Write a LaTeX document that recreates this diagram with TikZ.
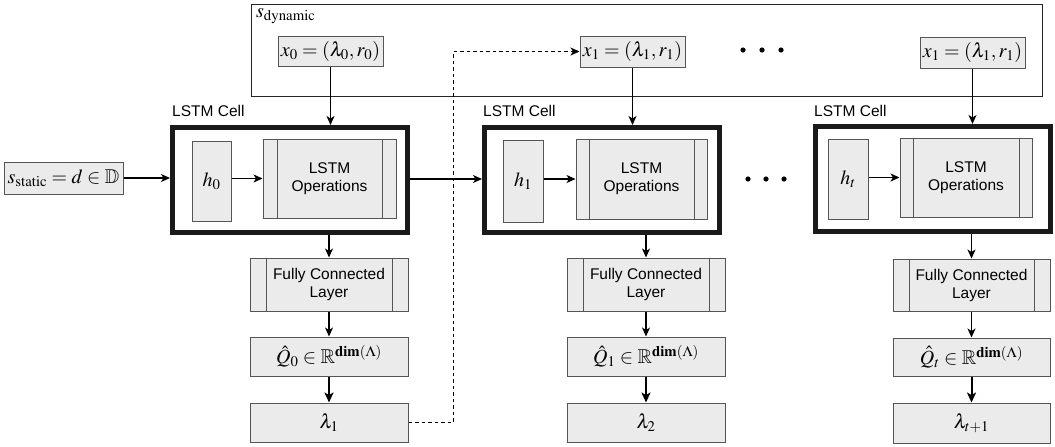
\documentclass[tikz,border=0pt]{standalone}
\usepackage{amsmath}
\usepackage{mathptmx}
\usepackage{amssymb}
\usepackage[no-math]{fontspec}
\setmainfont{Liberation Serif}
\setsansfont{Liberation Sans}
\usetikzlibrary{arrows.meta,calc}
\definecolor{boxc}{HTML}{EBEBEB}
\definecolor{bordc}{HTML}{555555}
\definecolor{cellc}{HTML}{1A1A1A}
\tikzset{
  box/.style={draw=bordc, fill=boxc, line width=1pt, inner sep=0pt},
  cellbox/.style={draw=cellc, line width=5pt, fill=white, inner sep=0pt, minimum width=235pt, minimum height=105pt},
  procbox/.style={box, path picture={
      \draw[bordc, line width=1pt] ([xshift=#1]path picture bounding box.north west) -- ([xshift=#1]path picture bounding box.south west);
      \draw[bordc, line width=1pt] ([xshift=-#1]path picture bounding box.north east) -- ([xshift=-#1]path picture bounding box.south east);}},
  mfont/.style={font=\fontsize{20}{24}\selectfont},
  sfont/.style={font=\sffamily\fontsize{15.5}{18}\selectfont, align=center},
  arr/.style={draw=black, line width=1.2pt, -{Stealth[length=9pt,width=8pt,inset=2.5pt]}},
  thickarr/.style={draw=black, line width=2pt, -{Stealth[length=10pt,width=9pt,inset=2.5pt]}},
  dsharr/.style={draw=black, line width=1pt, dash pattern=on 3.5pt off 3pt, -{Stealth[length=9pt,width=8pt,inset=2.5pt]}}
}
\begin{document}
\begin{tikzpicture}[x=1pt,y=-1pt]
\useasboundingbox[fill=white] (0,0) rectangle (1055,447);

% dynamic state box
\node[draw=black!85, line width=1pt, fill=white, minimum width=791pt, minimum height=92pt, inner sep=0pt] (sdyn) at (646.5,50) {};
\node[mfont, anchor=north west, inner sep=0pt] (sdynlbl) at (256,8) {$s_{\mathrm{dynamic}}$};

\node[box, mfont, minimum width=105pt, minimum height=30pt] (x0) at (330.5,51) {$x_0=(\lambda_0,r_0)$};
\node[box, mfont, minimum width=105pt, minimum height=31pt] (x1a) at (632.5,51.5) {$x_1=(\lambda_1,r_1)$};
\node[box, mfont, minimum width=105pt, minimum height=31pt] (x1b) at (972.5,52.5) {$x_1=(\lambda_1,r_1)$};

\foreach \xx in {743,762,781}{\fill (\xx,50) circle (2.6pt);}

% static state
\node[box, mfont, minimum width=119pt, minimum height=32pt] (sstat) at (63.5,178) {$s_{\mathrm{static}}=d\in\mathbb{D}$};

% LSTM cells
\node[cellbox] (cell1) at (290,180) {};
\node[cellbox] (cell2) at (602,180) {};
\node[cellbox] (cell3) at (932.5,179) {};
\node[sfont, anchor=south west, inner sep=0pt] (lbl1) at (172,117) {LSTM Cell};
\node[sfont, anchor=south west, inner sep=0pt] (lbl2) at (483,117) {LSTM Cell};
\node[sfont, anchor=south west, inner sep=0pt] (lbl3) at (814,117) {LSTM Cell};

\node[box, mfont, minimum width=39pt, minimum height=80pt] (h0) at (211.5,181) {$h_0$};
\node[box, mfont, minimum width=40pt, minimum height=82pt] (h1) at (523,181) {$h_1$};
\node[box, mfont, minimum width=40pt, minimum height=80pt] (ht) at (848,179) {$h_t$};

\node[procbox=14pt, sfont, minimum width=133pt, minimum height=79pt] (ops1) at (329.5,178.5) {LSTM\\Operations};
\node[procbox=13pt, sfont, minimum width=131pt, minimum height=80pt] (ops2) at (641.5,179) {LSTM\\Operations};
\node[procbox=13pt, sfont, minimum width=132pt, minimum height=79pt] (ops3) at (966,177.5) {LSTM\\Operations};

\foreach \xx in {748,766,784}{\fill (\xx,179) circle (2.6pt);}

% output columns
\node[procbox=16pt, sfont, minimum width=158pt, minimum height=53pt] (fc1) at (329,284.5) {Fully Connected\\Layer};
\node[procbox=16pt, sfont, minimum width=158pt, minimum height=53pt] (fc2) at (646,284.5) {Fully Connected\\Layer};
\node[procbox=16pt, sfont, minimum width=157pt, minimum height=52pt] (fc3) at (971.5,285) {Fully Connected\\Layer};

\node[box, mfont, minimum width=158pt, minimum height=39pt] (q0) at (329,356.5) {$\hat{Q}_0\in\mathbb{R}^{\mathbf{dim}(\Lambda)}$};
\node[box, mfont, minimum width=158pt, minimum height=39pt] (q1) at (646,356.5) {$\hat{Q}_1\in\mathbb{R}^{\mathbf{dim}(\Lambda)}$};
\node[box, mfont, minimum width=157pt, minimum height=38pt] (qt) at (971.5,357) {$\hat{Q}_t\in\mathbb{R}^{\mathbf{dim}(\Lambda)}$};

\node[box, mfont, minimum width=158pt, minimum height=39pt] (lam1) at (329,422.5) {$\lambda_1$};
\node[box, mfont, minimum width=158pt, minimum height=39pt] (lam2) at (646,422.5) {$\lambda_2$};
\node[box, mfont, minimum width=157pt, minimum height=40pt] (lamt) at (971.5,423) {$\lambda_{t+1}$};

% connectors
\draw[arr] (sstat.east) -- (sstat.east -| cell1.west);
\draw[arr] (cell1.east |- 0,179) -- (cell2.west |- 0,179);
\draw[arr] (h0.east |- ops1.west) -- (ops1.west);
\draw[arr] (h1.east |- ops2.west) -- (ops2.west);
\draw[arr] (ht.east |- ops3.west) -- (ops3.west);

\draw[arr] (x0.south) -- (x0.south |- cell1.north);
\draw[arr] (x1a.south) -- (x1a.south |- cell2.north);
\draw[arr] (x1b.south) -- (x1b.south |- cell3.north);

\foreach \c/\f/\q/\l in {cell1/fc1/q0/lam1, cell2/fc2/q1/lam2, cell3/fc3/qt/lamt}{
  \draw[arr] (\f.north |- \c.south) -- (\f.north);
  \draw[arr] (\f.south) -- (\q.north);
  \draw[thickarr] (\q.south) -- (\l.north);
}

\coordinate (dk) at (453,0);
\draw[dsharr] (lam1.east) -- (lam1.east -| dk) -- (x1a.west -| dk) -- (x1a.west);
\end{tikzpicture}
\end{document}
